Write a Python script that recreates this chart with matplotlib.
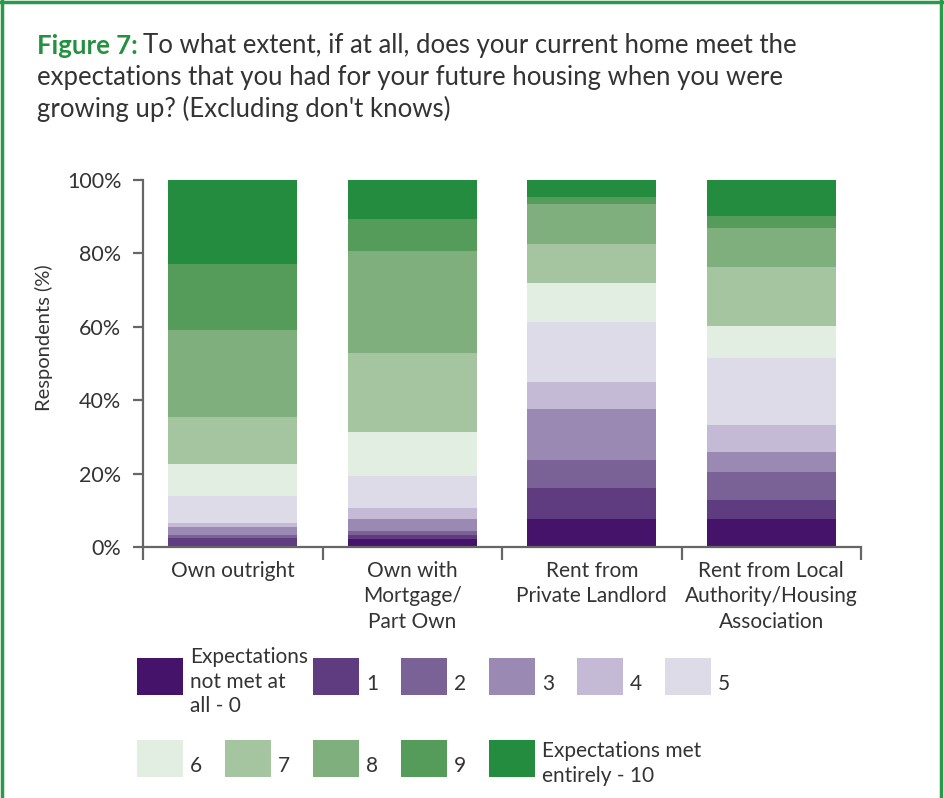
import numpy as np
import matplotlib.pyplot as plt
from matplotlib.patches import Rectangle
from matplotlib.lines import Line2D

plt.rcParams['font.family'] = ['Lato', 'DejaVu Sans']

categories = ["Own outright", "Own with\nMortgage/\nPart Own",
              "Rent from\nPrivate Landlord", "Rent from Local\nAuthority/Housing\nAssociation"]
levels = ["Expectations\nnot met at\nall - 0", "1", "2", "3", "4", "5",
          "6", "7", "8", "9", "Expectations met\nentirely - 10"]

# share of respondents (%) per level 0..10, for each tenure
own_outright = [0.0, 2.5, 0.8, 2.2, 1.1, 7.4, 8.7, 12.8, 23.7, 18.0, 22.8]
own_mortgage = [2.2, 1.1, 1.1, 3.3, 3.0, 8.7, 11.8, 21.6, 27.9, 8.7, 10.6]
rent_private = [7.5, 8.5, 7.6, 13.9, 7.4, 16.4, 10.6, 10.6, 10.9, 1.9, 4.7]
rent_social = [7.5, 5.2, 7.6, 5.5, 7.4, 18.3, 8.7, 16.1, 10.6, 3.3, 9.8]

colors = ["#45136a", "#5f3b7f", "#7a6196", "#9a89b2", "#c5bad6", "#dedbe9",
          "#e3eee3", "#a5c5a0", "#7eaf7c", "#559b59", "#238c3e"]

data = np.array([own_outright, own_mortgage, rent_private, rent_social])
text_col = "#333333"
axis_col = "#666666"

fig = plt.figure(figsize=(9.45, 7.98), dpi=100)
W, H = 945, 798

# green frame
for xs, ys in [([0.002, 0.002], [0, 1]), ([0.996, 0.996], [0, 1]), ([0, 1], [0.998, 0.998])]:
    fig.add_artist(Line2D(xs, ys, color="#2a9a4a", lw=2.5, transform=fig.transFigure))

# title
tsize = 18.5
t1 = fig.text(37 / W, 1 - 46 / H, "Figure 7:", color="#23913f", fontsize=tsize,
              fontweight="bold", va="center", ha="left")
fig.canvas.draw()
bb = t1.get_window_extent()
x_after = (bb.x1 + 5) / W
fig.text(x_after, 1 - 46 / H, "To what extent, if at all, does your current home meet the",
         color=text_col, fontsize=tsize, va="center", ha="left")
fig.text(37 / W, 1 - 78 / H, "expectations that you had for your future housing when you were",
         color=text_col, fontsize=tsize, va="center", ha="left")
fig.text(37 / W, 1 - 109 / H, "growing up? (Excluding don't knows)",
         color=text_col, fontsize=tsize, va="center", ha="left")

ax = fig.add_axes([143 / W, 1 - 547 / H, 718 / W, 367 / H])
x = np.arange(len(categories))
bottom = np.zeros(len(categories))
for i in range(len(levels)):
    ax.bar(x, data[:, i], bottom=bottom, width=0.72, color=colors[i], linewidth=0)
    bottom += data[:, i]

ax.set_xlim(-0.5, 3.5)
ax.set_ylim(0, 100)
for s in ["top", "right"]:
    ax.spines[s].set_visible(False)
for s in ["left", "bottom"]:
    ax.spines[s].set_color(axis_col)
    ax.spines[s].set_linewidth(1.6)

ax.set_yticks([0, 20, 40, 60, 80, 100])
ax.set_yticklabels(["0%", "20%", "40%", "60%", "80%", "100%"], fontsize=15.5, color=text_col)
ax.tick_params(axis="y", direction="out", length=7.5, width=1.6, color=axis_col, pad=8)

ax.set_xticks([-0.5, 0.5, 1.5, 2.5, 3.5])
ax.set_xticklabels([])
ax.tick_params(axis="x", which="major", direction="out", length=9.5, width=1.6, color=axis_col)
ax.set_xticks(x, minor=True)
ax.set_xticklabels(categories, minor=True, fontsize=15, color=text_col, linespacing=1.35)
ax.tick_params(axis="x", which="minor", length=0, pad=10)

ax.set_ylabel("Respondents (%)", fontsize=14.5, color=text_col)
ax.yaxis.set_label_coords(-0.125, 0.57)

# legend grid
slot = 88
rows = [(658, [(0, 0), (1, 2), (2, 3), (3, 4), (4, 5), (5, 6)]),
        (740, [(6, 0), (7, 1), (8, 2), (9, 3), (10, 4)])]
pw, ph = 46, 37
for top, items in rows:
    for lev, s in items:
        x0 = 137 + s * slot
        fig.add_artist(Rectangle((x0 / W, 1 - (top + ph) / H), pw / W, ph / H,
                                 transform=fig.transFigure, color=colors[lev], lw=0))
        ny = levels[lev].count("\n")
        yc = top + ph / 2 + (5 if ny else 8)
        fig.text((x0 + pw + 7) / W, 1 - yc / H, levels[lev], fontsize=15, color=text_col,
                 va="center", ha="left", linespacing=1.3)

fig.savefig("out.png", dpi=100)
